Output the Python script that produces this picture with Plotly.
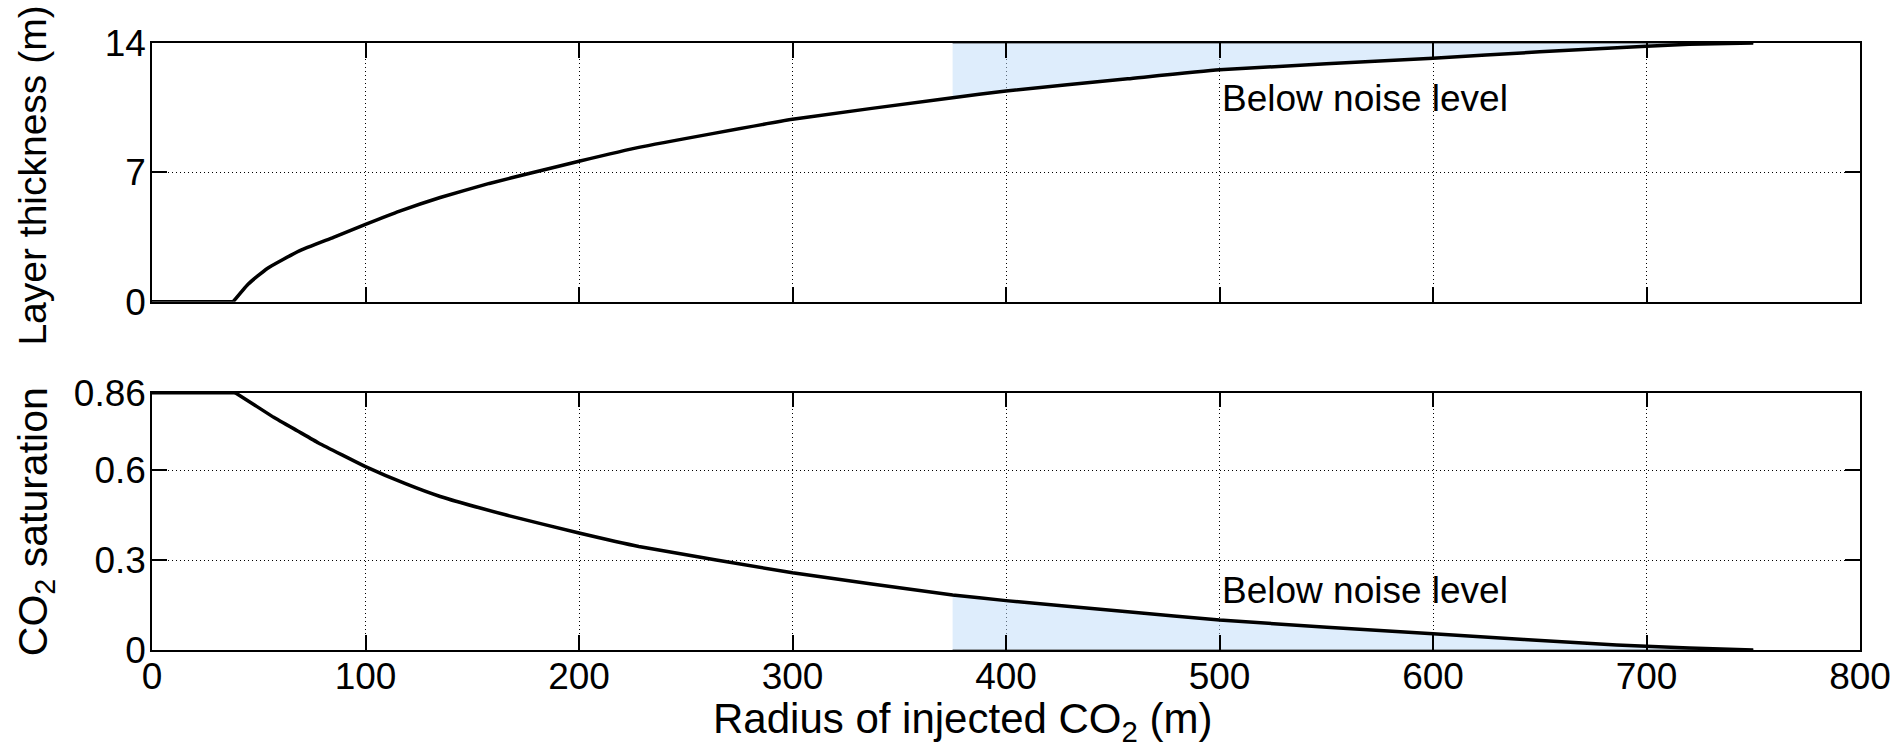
import plotly.graph_objects as go

# ---- data ----
r_thick = [0, 38, 45, 54, 69, 85, 100, 116, 135, 158, 178, 200, 228, 300, 375, 400, 457, 500, 600, 650, 700, 720, 750]
thickness = [0, 0, 0.95, 1.8, 2.75, 3.48, 4.18, 4.9, 5.64, 6.4, 6.98, 7.6, 8.35, 9.87, 11.04, 11.4, 12.06, 12.55, 13.18, 13.52, 13.82, 13.93, 14.0]

r_sat = [0, 39, 48, 57, 68, 78, 89, 100, 119, 135, 166, 200, 228, 300, 375, 400, 457, 500, 600, 686, 720, 750]
saturation = [0.86, 0.86, 0.819, 0.778, 0.733, 0.692, 0.652, 0.613, 0.555, 0.513, 0.451, 0.391, 0.346, 0.258, 0.184, 0.165, 0.128, 0.100, 0.054, 0.017, 0.007, 0.0]

onset_index = 1          # index where the curves leave their plateau
noise_start = 375
thick_max = 14
sat_max = 0.86
x_ticks = [0, 100, 200, 300, 400, 500, 600, 700, 800]
thick_ticks = [0, 7, 14]
sat_ticks = [0, 0.3, 0.6, 0.86]
sat_ticktext = ["0", "0.3", "0.6", "0.86"]
label_text = "Below noise level"

FONT = "Liberation Sans, Arial, Helvetica, sans-serif"
FS = 37
SHADE = "rgba(190,220,250,0.5)"

fig = go.Figure()

# shaded "below noise level" regions
sx = [r for r in r_thick if r >= noise_start]
sy = [h for r, h in zip(r_thick, thickness) if r >= noise_start]
fig.add_trace(go.Scatter(x=sx + [sx[-1], noise_start], y=sy + [thick_max, thick_max],
                         fill="toself", fillcolor=SHADE, mode="lines",
                         line=dict(color="#444444", width=1), xaxis="x", yaxis="y",
                         hoverinfo="skip", showlegend=False))
bx = [r for r in r_sat if r >= noise_start]
by = [s for r, s in zip(r_sat, saturation) if r >= noise_start]
fig.add_trace(go.Scatter(x=bx + [bx[-1], noise_start], y=by + [0, 0],
                         fill="toself", fillcolor=SHADE, mode="lines",
                         line=dict(color="#444444", width=1), xaxis="x2", yaxis="y2",
                         hoverinfo="skip", showlegend=False))


def add_curve(xs, ys, xa, ya):
    k = onset_index
    # plateau part (straight)
    fig.add_trace(go.Scatter(x=xs[:k + 1], y=ys[:k + 1], mode="lines",
                             line=dict(color="black", width=3.5),
                             xaxis=xa, yaxis=ya, showlegend=False))
    # smooth decaying / rising part
    fig.add_trace(go.Scatter(x=xs[k:], y=ys[k:], mode="lines",
                             line=dict(color="black", width=3.5, shape="spline", smoothing=0.4),
                             xaxis=xa, yaxis=ya, showlegend=False))


add_curve(r_thick, thickness, "x", "y")
add_curve(r_sat, saturation, "x2", "y2")

axis_common = dict(
    showline=True, linecolor="black", linewidth=1.5, mirror="ticks",
    ticks="inside", ticklen=15, tickwidth=1.5, tickcolor="black",
    showgrid=True, gridcolor="black", gridwidth=1, griddash="1px,3px",
    zeroline=False, tickfont=dict(family=FONT, size=FS, color="black"),
)

fig.update_layout(
    width=1903, height=745,
    margin=dict(l=152, r=39, t=43, b=95),
    paper_bgcolor="white", plot_bgcolor="white",
    font=dict(family=FONT, size=FS, color="black"),
    xaxis=dict(domain=[0, 1], range=[0, 800], tickvals=x_ticks, showticklabels=False,
               anchor="y", **axis_common),
    yaxis=dict(domain=[0.5738, 1], range=[0, thick_max], tickvals=thick_ticks,
               anchor="x", ticklabelstandoff=-3, **axis_common),
    xaxis2=dict(domain=[0, 1], range=[0, 800], tickvals=x_ticks, anchor="y2",
                ticklabelstandoff=-7, **axis_common),
    yaxis2=dict(domain=[0, 0.4239], range=[0, sat_max], tickvals=sat_ticks,
                ticktext=sat_ticktext, anchor="x2", ticklabelstandoff=-3, **axis_common),
)

annotations = [
    dict(text=label_text, x=500, y=11.0, xref="x", yref="y", xanchor="left",
         yanchor="middle", showarrow=False, font=dict(family=FONT, size=FS)),
    dict(text=label_text, x=500, y=0.20, xref="x2", yref="y2", xanchor="left",
         yanchor="middle", showarrow=False, font=dict(family=FONT, size=FS)),
    dict(text="Layer thickness (m)", x=-0.0701, y=0.782, xref="paper", yref="paper",
         xanchor="center", yanchor="middle", textangle=-90, showarrow=False,
         font=dict(family=FONT, size=39)),
    dict(text="CO<sub>2</sub> saturation", x=-0.068, y=0.212, xref="paper", yref="paper",
         xanchor="center", yanchor="middle", textangle=-90, showarrow=False,
         font=dict(family=FONT, size=41)),
    dict(text="Radius of injected CO<sub>2</sub> (m)", x=0.475, y=-0.118, xref="paper",
         yref="paper", xanchor="center", yanchor="middle", showarrow=False,
         font=dict(family=FONT, size=42)),
]
fig.update_layout(annotations=annotations)

fig.write_html("out.html")
